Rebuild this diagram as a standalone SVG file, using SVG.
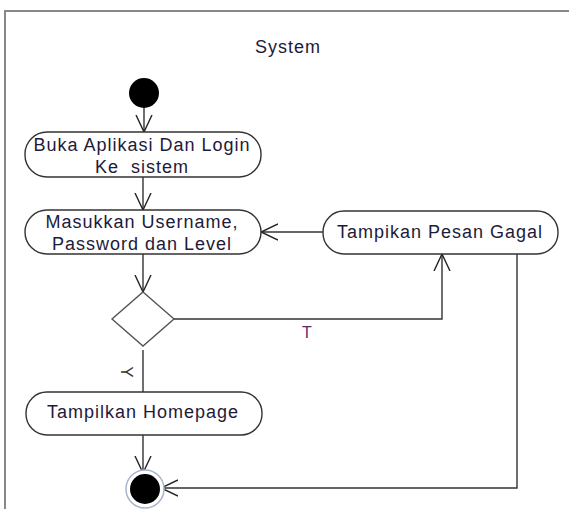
<svg xmlns="http://www.w3.org/2000/svg" width="569" height="509" viewBox="0 0 569 509">
<defs>
<style>
.node{fill:#fff;stroke:#333;stroke-width:1.4}
.lbl{font-family:"Liberation Sans",Arial,sans-serif;font-size:18px;letter-spacing:1px;fill:#1e1a3a;text-anchor:middle}
.edge{fill:none;stroke:#333;stroke-width:1.4}
</style>
<marker id="arr" viewBox="0 0 18 18" refX="17" refY="9" markerWidth="18" markerHeight="18" markerUnits="userSpaceOnUse" orient="auto">
<path d="M0,1 L17,9 L0,17" fill="none" stroke="#222" stroke-width="1.4"/>
</marker>
</defs>
<rect width="569" height="509" fill="#fff"/>
<path d="M5,509 L5,11 L569,11" fill="none" stroke="#888" stroke-width="2"/>
<text class="lbl" x="288" y="53">System</text>

<g id="connectors">
<line class="edge" x1="144" y1="108" x2="144" y2="132" marker-end="url(#arr)"/>
<line class="edge" x1="143" y1="177" x2="143" y2="210" marker-end="url(#arr)"/>
<line class="edge" x1="323" y1="232" x2="261" y2="232" marker-end="url(#arr)"/>
<line class="edge" x1="143" y1="254" x2="143" y2="292" marker-end="url(#arr)"/>
<polyline class="edge" points="174,319 442,319 442,254" marker-end="url(#arr)"/>
<line class="edge" x1="143" y1="350" x2="143" y2="392"/>
<line class="edge" x1="143" y1="435" x2="143" y2="473" marker-end="url(#arr)"/>
<polyline class="edge" points="517,254 517,488 161,488" marker-end="url(#arr)"/>
<text x="307" y="338" font-family="Liberation Sans,Arial,sans-serif" font-size="16" fill="#5a2a6a" text-anchor="middle">T</text>
<text x="0" y="0" font-family="Liberation Sans,Arial,sans-serif" font-size="17" fill="#333" text-anchor="middle" transform="translate(121,372) rotate(90)">Y</text>
</g>

<g id="start"><circle cx="144" cy="93" r="15" fill="#000"/></g>

<g id="node1">
<rect class="node" x="25" y="132" width="236" height="45" rx="22"/>
<text class="lbl" x="142" y="151">Buka Aplikasi Dan Login</text>
<text class="lbl" x="142" y="173">Ke&#160; sistem</text>
</g>

<g id="node2">
<rect class="node" x="25" y="210" width="236" height="44" rx="22"/>
<text class="lbl" x="142" y="228">Masukkan Username,</text>
<text class="lbl" x="142" y="250">Password dan Level</text>
</g>

<g id="node3">
<rect class="node" x="323" y="211" width="235" height="43" rx="21"/>
<text class="lbl" x="440" y="238">Tampikan Pesan Gagal</text>
</g>

<g id="decision">
<polygon points="143,292 174,319 143,346 112,319" fill="#fff" stroke="#555" stroke-width="1.4"/>
</g>

<g id="node4">
<rect class="node" x="26" y="392" width="236" height="43" rx="21"/>
<text class="lbl" x="143" y="418">Tampilkan Homepage</text>
</g>

<g id="end">
<circle cx="145" cy="489" r="19" fill="#fff" stroke="#a8b4cc" stroke-width="1.5"/>
<circle cx="145" cy="489" r="15" fill="#000"/>
</g>
</svg>
